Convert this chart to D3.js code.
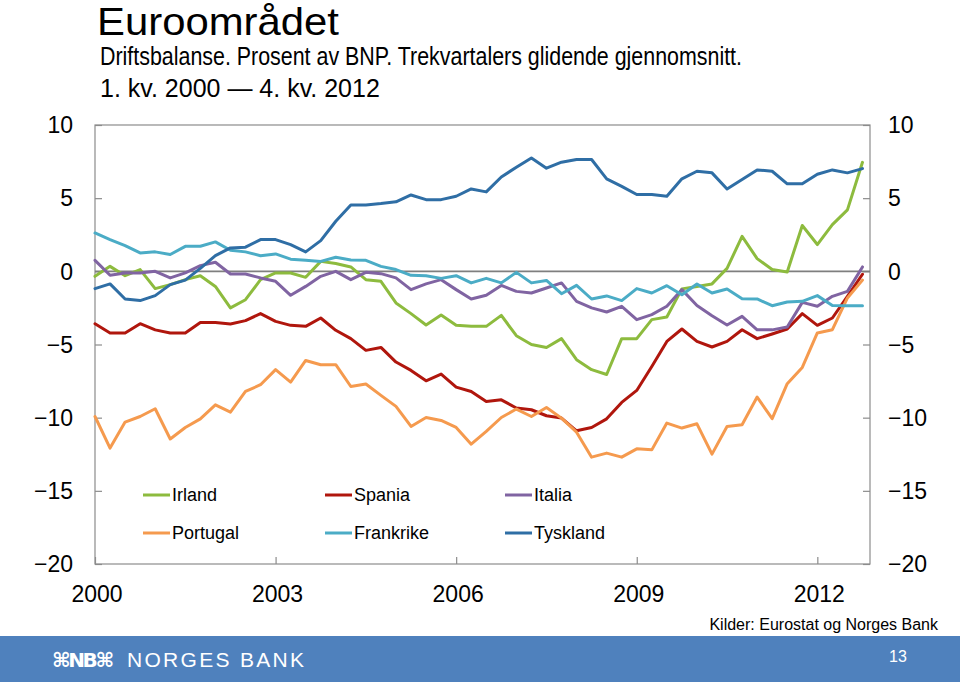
<!DOCTYPE html>
<html lang="no">
<head>
<meta charset="utf-8">
<title>Euroområdet – driftsbalanse</title>
<script src="https://cdn.jsdelivr.net/npm/d3@7"></script>
<style>
    html, body { margin: 0; padding: 0; background: #fff; }
    svg { display: block; font-family: "Liberation Sans", Arial, sans-serif; }
    .axis-line { stroke: #8c8c8c; stroke-width: 1.2; fill: none; }
    .zero-line { stroke: #7f7f7f; stroke-width: 1.6; }
    .tick-label { font-size: 23px; fill: #000; }
    .data-line { fill: none; stroke-width: 3; stroke-linejoin: round; stroke-linecap: round; }
    .legend-text { font-size: 18px; fill: #000; }
</style>
</head>
<body>
<svg id="chart" width="960" height="682"></svg>
<script>
/* =======================
   DATA (quarters 1. kv. 2000 – 4. kv. 2012)
======================= */

const years = [2000, 2003, 2006, 2009, 2012];
const yTicks = [10, 5, 0, -5, -10, -15, -20];

const irland = [-0.34, 0.34, -0.3, 0.12, -1.18, -0.91, -0.57, -0.3, -1.03, -2.5, -1.94, -0.57, -0.11, -0.11, -0.41, 0.68, 0.53, 0.3,
    -0.57, -0.68, -2.16, -2.89, -3.67, -2.98, -3.69, -3.76, -3.76, -3.01, -4.4, -5.0, -5.2, -4.6, -6.04, -6.72, -7.05,
    -4.6, -4.6, -3.3, -3.12, -1.2, -1.03, -0.86, 0.2, 2.39, 0.87, 0.12, -0.04, 3.13, 1.83, 3.19, 4.2, 7.45];

const spania = [-3.58, -4.21, -4.21, -3.58, -4.0, -4.21, -4.21, -3.49, -3.49, -3.6, -3.37, -2.89, -3.42, -3.69, -3.76, -3.19, -4.03, -4.6,
    -5.4, -5.2, -6.2, -6.77, -7.48, -7.02, -7.91, -8.21, -8.89, -8.78, -9.34, -9.46, -9.87, -10.03, -10.9, -10.67, -10.08,
    -8.96, -8.14, -6.5, -4.79, -3.94, -4.79, -5.17, -4.79, -3.99, -4.6, -4.28, -3.94, -2.89, -3.69, -3.19, -1.71, -0.2];

const italia = [0.75, -0.27, -0.11, -0.11, 0.0, -0.45, -0.1, 0.39, 0.62, -0.18, -0.18, -0.45, -0.68, -1.64, -1.03, -0.34, 0.0, -0.57,
    -0.07, -0.16, -0.45, -1.25, -0.86, -0.57, -1.25, -1.89, -1.64, -0.96, -1.37, -1.48, -1.14, -0.79, -2.05, -2.5, -2.78,
    -2.39, -3.3, -2.96, -2.39, -1.25, -2.33, -3.03, -3.67, -3.08, -4.0, -4.0, -3.81, -2.12, -2.39, -1.71, -1.37, 0.3];

const portugal = [-9.92, -12.08, -10.3, -9.92, -9.39, -11.46, -10.67, -10.08, -9.12, -9.62, -8.21, -7.75, -6.72, -7.57, -6.09, -6.38, -6.38, -7.87,
    -7.7, -8.48, -9.23, -10.6, -9.99, -10.19, -10.67, -11.81, -10.94, -9.99, -9.41, -9.92, -9.3, -10.03, -10.99, -12.7, -12.42,
    -12.7, -12.13, -12.2, -10.37, -10.71, -10.42, -12.49, -10.6, -10.49, -8.59, -10.07, -7.68, -6.57, -4.21, -3.99, -1.82, -0.6];

const frankrike = [2.62, 2.17, 1.76, 1.26, 1.33, 1.15, 1.71, 1.71, 2.01, 1.44, 1.33, 1.07, 1.19, 0.83, 0.75, 0.68, 0.96, 0.78,
    0.75, 0.34, 0.12, -0.27, -0.3, -0.48, -0.3, -0.79, -0.48, -0.79, -0.07, -0.79, -0.62, -1.53, -0.96, -1.89, -1.68,
    -2.0, -1.18, -1.48, -0.98, -1.6, -0.86, -1.48, -1.21, -1.87, -1.89, -2.35, -2.1, -2.05, -1.66, -2.33, -2.35, -2.35];

const tyskland = [-1.18, -0.86, -1.89, -2.0, -1.66, -0.91, -0.6, 0.2, 1.07, 1.6, 1.65, 2.17, 2.17, 1.83, 1.33, 2.1, 3.42, 4.54,
    4.54, 4.63, 4.75, 5.22, 4.9, 4.9, 5.13, 5.63, 5.43, 6.45, 7.11, 7.75, 7.05, 7.46, 7.64, 7.64, 6.32,
    5.81, 5.25, 5.25, 5.13, 6.32, 6.84, 6.73, 5.63, 6.27, 6.93, 6.84, 5.98, 5.98, 6.63, 6.93, 6.73, 7.02];

const series = [
    { name: "Irland", values: irland, color: "#8dbb3e" },
    { name: "Spania", values: spania, color: "#b0160d" },
    { name: "Italia", values: italia, color: "#8064a2" },
    { name: "Portugal", values: portugal, color: "#f59a4e" },
    { name: "Frankrike", values: frankrike, color: "#4bacc6" },
    { name: "Tyskland", values: tyskland, color: "#2f6ea5" }
];

/* =======================
   CHART
======================= */

const svg = d3.select("#chart");

const plot = { left: 95, right: 870, top: 125, bottom: 564 };

// x is quarter index from 1. kv. 2000
const xScale = d3.scaleLinear().domain([0, 51.5]).range([plot.left, plot.right]);
const yScale = d3.scaleLinear().domain([-20, 10]).range([plot.bottom, plot.top]);
const qIndex = yr => (yr - 2000) * 4;
const fmt = d3.format("d"); // gives a real minus sign

// Titles
svg.append("text").attr("x", 97).attr("y", 35)
    .style("font-size", "39px")
    .attr("textLength", 242).attr("lengthAdjust", "spacingAndGlyphs")
    .text("Euroområdet");
svg.append("text").attr("x", 100).attr("y", 65)
    .style("font-size", "25px")
    .attr("textLength", 642).attr("lengthAdjust", "spacingAndGlyphs")
    .text("Driftsbalanse. Prosent av BNP. Trekvartalers glidende gjennomsnitt.");
svg.append("text").attr("x", 100).attr("y", 97)
    .style("font-size", "25px").text("1. kv. 2000 — 4. kv. 2012");

// Frame
svg.append("rect")
    .attr("class", "axis-line")
    .attr("x", plot.left).attr("y", plot.top)
    .attr("width", plot.right - plot.left).attr("height", plot.bottom - plot.top);

// Y axes (left + right), ticks pointing inward
const axisL = svg.append("g").attr("transform", `translate(${plot.left},0)`)
    .call(d3.axisRight(yScale).tickValues(yTicks).tickSize(7).tickFormat(""));
const axisR = svg.append("g").attr("transform", `translate(${plot.right},0)`)
    .call(d3.axisLeft(yScale).tickValues(yTicks).tickSize(7).tickFormat(""));
const axisX = svg.append("g").attr("transform", `translate(0,${plot.bottom})`)
    .call(d3.axisTop(xScale).tickValues(years.map(qIndex)).tickSize(7).tickFormat(""));

[axisL, axisR, axisX].forEach(a => {
    a.select(".domain").remove();
    a.selectAll(".tick line").attr("stroke", "#8c8c8c").attr("stroke-width", 1.2);
});

// Tick labels
svg.append("g").selectAll("text").data(yTicks).join("text")
    .attr("class", "tick-label")
    .attr("x", 73).attr("y", d => yScale(d)).attr("dy", "0.36em")
    .attr("text-anchor", "end").text(fmt);
svg.append("g").selectAll("text").data(yTicks).join("text")
    .attr("class", "tick-label")
    .attr("x", 888).attr("y", d => yScale(d)).attr("dy", "0.36em")
    .text(fmt);
svg.append("g").selectAll("text").data(years).join("text")
    .attr("class", "tick-label")
    .attr("x", d => xScale(qIndex(d)) + 2).attr("y", 602)
    .attr("text-anchor", "middle").text(d => d);

// Zero line
svg.append("line").attr("class", "zero-line")
    .attr("x1", plot.left).attr("x2", plot.right)
    .attr("y1", yScale(0)).attr("y2", yScale(0));

// Lines
const lineGenerator = d3.line()
    .x((d, i) => xScale(i))
    .y(d => yScale(d));

svg.append("g").selectAll("path").data(series).join("path")
    .attr("class", "data-line")
    .attr("stroke", d => d.color)
    .attr("d", d => lineGenerator(d.values));

// Legend (3 columns x 2 rows)
const legendCols = [143, 325, 505];
const legendRows = [495, 533];
const legend = svg.append("g").selectAll("g").data(series).join("g")
    .attr("transform", (d, i) => `translate(${legendCols[i % 3]},${legendRows[Math.floor(i / 3)]})`);
legend.append("line")
    .attr("x1", 0).attr("x2", 27).attr("y1", 0).attr("y2", 0)
    .attr("stroke", d => d.color).attr("stroke-width", 3);
legend.append("text")
    .attr("class", "legend-text")
    .attr("x", 29).attr("dy", "0.36em").text(d => d.name);

// Source
svg.append("text").attr("x", 938).attr("y", 630)
    .attr("text-anchor", "end").style("font-size", "16px")
    .text("Kilder: Eurostat og Norges Bank");

// Footer band
svg.append("rect").attr("x", 0).attr("y", 636).attr("width", 960).attr("height", 46)
    .attr("fill", "#4f81bd");
svg.append("text").attr("x", 52).attr("y", 667)
    .style("font-size", "20px").style("font-weight", "bold").attr("fill", "#fff")
    .style("font-family", "'DejaVu Sans', sans-serif")
    .attr("textLength", 62)
    .text("⌘NB⌘");
svg.append("text").attr("x", 127).attr("y", 667)
    .style("font-size", "21px").style("letter-spacing", "2.3px").attr("fill", "#fff")
    .text("NORGES BANK");
svg.append("text").attr("x", 898).attr("y", 662)
    .attr("text-anchor", "middle").style("font-size", "16px").attr("fill", "#fff")
    .text("13");
</script>
</body>
</html>
